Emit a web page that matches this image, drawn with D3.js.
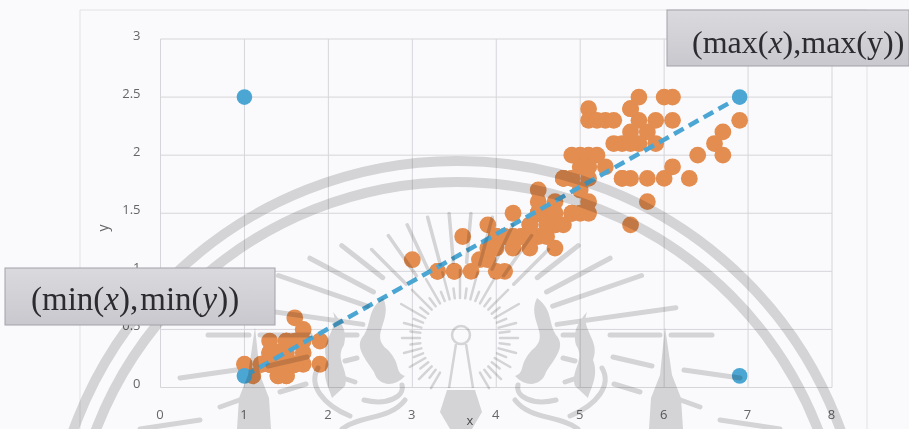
<!DOCTYPE html>
<html><head><meta charset="utf-8">
<script src="https://cdn.jsdelivr.net/npm/d3@7"></script>
<style>html,body{margin:0;padding:0;background:#fafafc;overflow:hidden}svg{display:block}</style>
</head><body><svg id="c" width="909" height="429"></svg>
<script>
const xTicks=[0,1,2,3,4,5,6,7,8];
const yTicks=[0,0.5,1,1.5,2,2.5,3];
const orangeX=[1.4,1.4,1.3,1.5,1.4,1.7,1.4,1.5,1.4,1.5,1.5,1.6,1.4,1.1,1.2,1.5,1.3,1.4,1.7,1.5,1.7,1.5,1.0,1.7,1.9,1.6,1.6,1.5,1.4,1.6,1.6,1.5,1.5,1.4,1.5,1.2,1.3,1.4,1.3,1.5,1.3,1.3,1.3,1.6,1.9,1.4,1.6,1.4,1.5,1.4,
4.7,4.5,4.9,4.0,4.6,4.5,4.7,3.3,4.6,3.9,3.5,4.2,4.0,4.7,3.6,4.4,4.5,4.1,4.5,3.9,4.8,4.0,4.9,4.7,4.3,4.4,4.8,5.0,4.5,3.5,3.8,3.7,3.9,5.1,4.5,4.5,4.7,4.4,4.1,4.0,4.4,4.6,4.0,3.3,4.2,4.2,4.2,4.3,3.0,4.1,
6.0,5.1,5.9,5.6,5.8,6.6,4.5,6.3,5.8,6.1,5.1,5.3,5.5,5.0,5.1,5.3,5.5,6.7,6.9,5.0,5.7,4.9,6.7,4.9,5.7,6.0,4.8,4.9,5.6,5.8,6.1,6.4,5.6,5.1,5.6,6.1,5.6,5.5,4.8,5.4,5.6,5.1,5.1,5.9,5.7,5.2,5.0,5.2,5.4,5.1];
const orangeY=[.2,.2,.2,.2,.2,.4,.3,.2,.2,.1,.2,.2,.1,.1,.2,.4,.4,.3,.3,.3,.2,.4,.2,.5,.2,.2,.4,.2,.2,.2,.2,.4,.1,.2,.2,.2,.2,.1,.2,.2,.3,.3,.2,.6,.4,.3,.2,.2,.2,.2,
1.4,1.5,1.5,1.3,1.5,1.3,1.6,1.0,1.3,1.4,1.0,1.5,1.0,1.4,1.3,1.4,1.5,1.0,1.5,1.1,1.8,1.3,1.5,1.2,1.3,1.4,1.4,1.7,1.5,1.0,1.1,1.0,1.2,1.6,1.5,1.6,1.5,1.3,1.3,1.3,1.2,1.4,1.2,1.0,1.3,1.2,1.3,1.3,1.1,1.3,
2.5,1.9,2.1,1.8,2.2,2.1,1.7,1.8,1.8,2.5,2.0,1.9,2.1,2.0,2.4,2.3,1.8,2.2,2.3,1.5,2.3,2.0,2.0,1.8,2.1,1.8,1.8,1.8,2.1,1.6,1.9,2.0,2.2,1.5,1.4,2.3,2.4,1.8,1.8,2.1,2.4,2.3,1.9,2.3,2.5,2.3,1.9,2.0,2.3,1.8];
const blueX=[1,1,6.9,6.9];
const blueY=[2.5,0.1,2.5,0.1];
const lineX=[1,6.9];
const lineY=[0.1,2.5];

const svg=d3.select('#c');
const x=d3.scaleLinear().domain([0,8]).range([160.5,832]);
const y=d3.scaleLinear().domain([0,3]).range([387.5,39]);

// outer chart frame
svg.append('path').attr('d','M80,429V10H867V429').attr('fill','none').attr('stroke','#e2e2e6').attr('stroke-width',1);

// grid
const grid=svg.append('g').attr('stroke','#d6d6da').attr('stroke-width',1);
grid.selectAll('.v').data(xTicks).join('line').attr('x1',d=>x(d)).attr('x2',d=>x(d)).attr('y1',y(3)).attr('y2',y(0));
grid.selectAll('.h').data(yTicks).join('line').attr('x1',x(0)).attr('x2',x(8)).attr('y1',d=>y(d)).attr('y2',d=>y(d));

// axes (labels only)
const fmt=d=>String(d);
const gx=svg.append('g').attr('transform',`translate(-1,${y(0)+22})`).call(d3.axisBottom(x).tickValues(xTicks).tickFormat(fmt).tickSize(0).tickPadding(0));
const gy=svg.append('g').attr('transform',`translate(${x(0)-20},-4)`).call(d3.axisLeft(y).tickValues(yTicks).tickFormat(fmt).tickSize(0).tickPadding(0));
[gx,gy].forEach(g=>{g.select('.domain').remove();g.selectAll('text').attr('font-family','"Open Sans",sans-serif').attr('font-size',13).attr('fill','#666');});
svg.append('text').attr('x',470).attr('y',425).attr('text-anchor','middle').attr('font-family','"Open Sans",sans-serif').attr('font-size',13).attr('fill','#555').text('x');
svg.append('text').attr('transform','translate(108,228) rotate(-90)').attr('text-anchor','middle').attr('font-family','"Open Sans",sans-serif').attr('font-size',14).attr('fill','#666').text('y');

// points
svg.append('g').selectAll('circle').data(orangeX.map((d,i)=>[d,orangeY[i]])).join('circle')
  .attr('cx',d=>x(d[0])).attr('cy',d=>y(d[1])).attr('r',8.4).attr('fill','#e38d50');
svg.append('g').selectAll('circle').data(blueX.map((d,i)=>[d,blueY[i]])).join('circle')
  .attr('cx',d=>x(d[0])).attr('cy',d=>y(d[1])).attr('r',7.8).attr('fill','#4ba6d3');
svg.append('path').datum(lineX.map((d,i)=>[d,lineY[i]]))
  .attr('d',d3.line().x(d=>x(d[0])).y(d=>y(d[1])))
  .attr('fill','none').attr('stroke','#4ba6d3').attr('stroke-width',4.5).attr('stroke-dasharray','11 6');

// watermark printed over the page
const wmColor='#d9d9d9';
const wm=svg.append('g').attr('fill','none').attr('stroke',wmColor).style('mix-blend-mode','multiply');
[[408,10],[387,10]].forEach(([r,w])=>wm.append('circle').attr('cx',457).attr('cy',569).attr('r',r).attr('stroke-width',w));
const sx=460,sy=338;
function ray(aDeg,r0,r1,w){
  const t=aDeg*Math.PI/180;
  wm.append('line').attr('x1',sx+r0*Math.sin(t)).attr('y1',sy-r0*Math.cos(t))
    .attr('x2',sx+r1*Math.sin(t)).attr('y2',sy-r1*Math.cos(t)).attr('stroke-width',w).attr('stroke-linecap','round');
}
// inner fan
d3.range(-150,151,7.5).forEach((a,i)=>ray(a,40,i%2?50:(Math.abs(a)<=60?68:58),2.5));
// middle fan
[-45,-35,-25,-15,-5,5,15,25,35,45].forEach(a=>ray(a,76,125,3.5));
// far fan
[[52,150],[62,170],[71,192],[82,218]].forEach(([a,r])=>{ray(a,98,r,5);ray(-a,98,r,5);});
// centre column and crown
wm.append('circle').attr('cx',461).attr('cy',335).attr('r',9).attr('stroke-width',2.5);
wm.append('path').attr('d','M456,344 L449,388 M466,344 L473,388').attr('stroke-width',2.5);
wm.append('path').attr('d','M447,390 H475 L482,412 L472,429 H450 L440,412 Z').attr('fill',wmColor).attr('stroke','none');
// mirrored motifs about the centre line
const filled=['M537,298 C526,320 552,335 532,350 C518,365 526,372 515,376 C526,388 542,386 546,372 C556,357 566,346 556,335 C548,322 553,310 537,298 Z',
 'M587,312 C580,330 601,340 593,360 C599,375 591,388 588,398 L575,386 C570,370 586,360 576,345 C572,330 580,320 587,312 Z',
 'M665,327 L660,375 L651,398 L649,429 H683 L681,398 L672,375 Z'];
const stroked=['M515,400 C530,420 560,415 578,429','M518,385 C515,396 532,406 556,400','M602,368 C612,385 597,405 570,416',
 'M563,335 H575','M610,335 H660','M671,335 H712','M684,370 L740,378','M613,357 L652,366','M614,384 L640,392',
 'M675,398 L700,407','M720,420 L780,429','M563,358 L575,361','M565,382 L580,377'];
[0,1].forEach(m=>{
  const g=wm.append('g').attr('transform',m?'translate(920,0) scale(-1,1)':null);
  filled.forEach(d=>g.append('path').attr('d',d).attr('fill',wmColor).attr('stroke','none'));
  stroked.forEach(d=>g.append('path').attr('d',d).attr('stroke-width',5).attr('stroke-linecap','round'));
});

// callout boxes
const defs=svg.append('defs');
const grad=defs.append('linearGradient').attr('id','bx').attr('x1',0).attr('y1',0).attr('x2',0).attr('y2',1);
grad.append('stop').attr('offset',0).attr('stop-color','#dadade');
grad.append('stop').attr('offset',1).attr('stop-color','#c8c8ce');
function box(bx,by,w,h,tx,ty,fs,parts){
  svg.append('rect').attr('x',bx).attr('y',by).attr('width',w).attr('height',h).attr('fill','url(#bx)').attr('stroke','#a2a2a8').attr('stroke-width',1);
  const t=svg.append('text').attr('x',tx).attr('y',ty).attr('font-family','"Liberation Serif",serif').attr('font-size',fs).attr('fill','#2c2c30');
  parts.forEach(([s,it,dx])=>t.append('tspan').text(s).attr('font-style',it?'italic':'normal').attr('dx',dx||0));
}
box(5,268,270,57,31,310,33,[['(min(',0],['x',1],['),',0],['min(',0,2],['y',1],['))',0]]);
box(667,10,242,56,692,53,32,[['(max(',0],['x',1],['),max(y))',0]]);
</script></body></html>
